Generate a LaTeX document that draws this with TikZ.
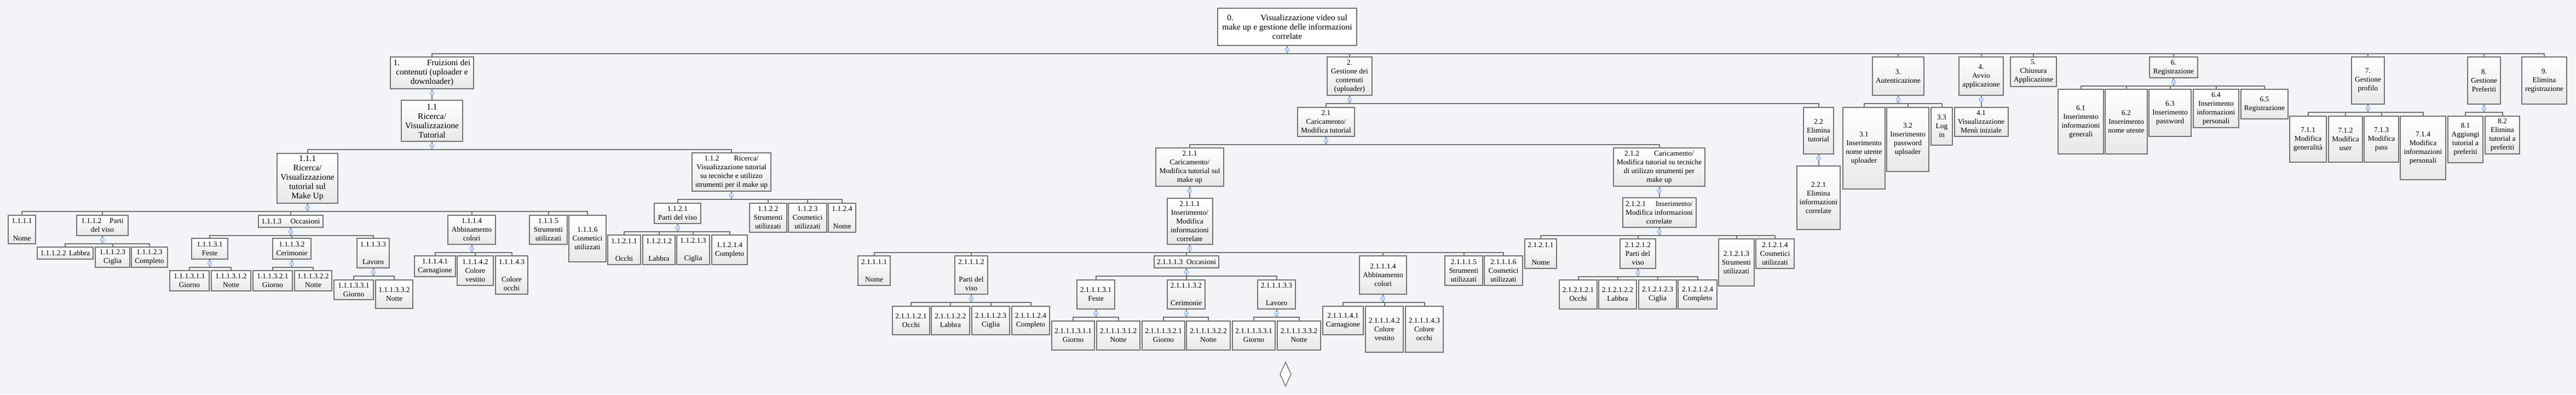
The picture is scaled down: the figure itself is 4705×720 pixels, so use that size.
\documentclass[tikz,border=0pt]{standalone}
\usepackage{fontspec}
\setmainfont{Liberation Serif}
\definecolor{bg}{RGB}{242,244,248}
\definecolor{edge}{RGB}{115,115,115}
\definecolor{tglfill}{RGB}{214,228,247}
\definecolor{tglline}{RGB}{140,172,222}
\tikzset{
  box/.style={draw=edge, line width=2pt, top color=white, bottom color=black!9,
    align=center, inner sep=2pt, font=\fontsize{13.5}{16}\selectfont},
  big/.style={font=\fontsize{15.5}{17}\selectfont},
  wh/.style 2 args={minimum width=#1pt, minimum height=#2pt},
  conn/.style={draw=edge, line width=2pt},
  toggle/.style={circle, inner sep=0pt, minimum size=8pt, draw=tglline, fill=tglfill,
    line width=0.8pt, path picture={\draw[tglline, line width=0.8pt]
      ([xshift=-2pt]path picture bounding box.center) -- ([xshift=2pt]path picture bounding box.center);}}
}
% parent -> children, elbow lines through a bus 14pt below the parent
\newcommand{\branch}[2]{%
  \foreach \ch in {#2} \draw[conn] (#1.south) -- ++(0,14) -| (\ch.north);
  \node[toggle] (t#1) at ([yshift=-7pt]#1.south) {};
}
\begin{document}
\begin{tikzpicture}[x=1pt,y=-1pt]
\fill[bg] (0,0) rectangle (4705,720);
\useasboundingbox (0,0) rectangle (4705,720);

% root
\node[box,big,fill=white,top color=white,bottom color=white,wh={254}{68}] (n0) at (2351,49) {0.\hspace{3.2em}Visualizzazione video sul\\make up e gestione delle informazioni\\correlate};

% 1.
\node[box,big,wh={152}{58}] (n1) at (789,133) {1.\hspace{3.2em}Fruizioni dei\\contenuti (uploader e\\downloader)};
\node[box,big,wh={112}{75}] (n11) at (789,220.5) {1.1\\Ricerca/\\Visualizzazione\\Tutorial};
\node[box,big,wh={111}{91}] (n111) at (561.5,325.5) {1.1.1\\Ricerca/\\Visualizzazione\\tutorial sul\\Make Up};
\node[box,wh={144}{70}] (n112) at (1336,314) {1.1.2\hspace{2em}Ricerca/\\Visualizzazione tutorial\\su tecniche e utilizzo\\strumenti per il make up};

\node[box,wh={50}{52}] (n1111) at (40,419) {1.1.1.1\\[16pt]Nome};
\node[box,wh={94}{37}] (n1112) at (187,411.5) {1.1.1.2\hspace{1.1em}Parti\\del viso};
\node[box,wh={102}{22}] (n11122) at (119,462) {1.1.1.2.2\hspace{0.4em}Labbra};
\node[box,wh={63}{37}] (n11123) at (205.5,469.5) {1.1.1.2.3\\Ciglia};
\node[box,wh={66}{37}] (n11124) at (273,469.5) {1.1.1.2.3\\Completo};
\node[box,wh={118}{22}] (n1113) at (531,404) {1.1.1.3\hspace{1.2em}Occasioni};
\node[box,wh={66}{38}] (n11131) at (383,454) {1.1.1.3.1\\Feste};
\node[box,wh={70}{38}] (n11132) at (533,454) {1.1.1.3.2\\Cerimonie};
\node[box,wh={59}{54}] (n11133) at (681.5,462) {1.1.1.3.3\\[16pt]Lavoro};
\node[box,wh={72}{37}] (n111311) at (346,512.5) {1.1.1.3.1.1\\Giorno};
\node[box,wh={72}{37}] (n111312) at (422,512.5) {1.1.1.3.1.2\\Notte};
\node[box,wh={72}{37}] (n111321) at (498,512.5) {1.1.1.3.2.1\\Giorno};
\node[box,wh={68}{37}] (n111322) at (572,512.5) {1.1.1.3.2.2\\Notte};
\node[box,wh={72}{36}] (n111331) at (646,529) {1.1.1.3.3.1\\Giorno};
\node[box,wh={68}{52}] (n111332) at (720,537) {1.1.1.3.3.2\\Notte};
\node[box,wh={87}{53}] (n1114) at (861.5,419.5) {1.1.1.4\\Abbinamento\\colori};
\node[box,wh={75}{38}] (n11141) at (794.5,486) {1.1.1.4.1\\Carnagione};
\node[box,wh={66}{54}] (n11142) at (868,494) {1.1.1.4.2\\Colore\\vestito};
\node[box,wh={59}{70}] (n11143) at (934.5,502) {1.1.1.4.3\\[16pt]Colore\\occhi};
\node[box,wh={69}{53}] (n1115) at (1001.5,419.5) {1.1.1.5\\Strumenti\\utilizzati};
\node[box,wh={68}{85}] (n1116) at (1073,435.5) {1.1.1.6\\Cosmetici\\utilizzati};

\node[box,wh={85}{37}] (n1121) at (1237.5,389.5) {1.1.2.1\\Parti del viso};
\node[box,wh={60}{54}] (n11211) at (1140,456) {1.1.2.1.1\\[16pt]Occhi};
\node[box,wh={59}{54}] (n11212) at (1203.5,456) {1.1.2.1.2\\[16pt]Labbra};
\node[box,wh={60}{54}] (n11213) at (1266,456) {1.1.2.1.3\\[16pt]Ciglia};
\node[box,wh={65}{54}] (n11214) at (1332.5,456) {1.1.2.1.4\\Completo};
\node[box,wh={68}{53}] (n1122) at (1403,397.5) {1.1.2.2\\Strumenti\\utilizzati};
\node[box,wh={70}{53}] (n1123) at (1475,397.5) {1.1.2.3\\Cosmetici\\utilizzati};
\node[box,wh={50}{53}] (n1124) at (1538,397.5) {1.1.2.4\\[16pt]Nome};

% 2.
\node[box,wh={82}{70}] (n2) at (2465,139) {2.\\Gestione dei\\contenuti\\(uploader)};
\node[box,wh={104}{53}] (n21) at (2422,222.5) {2.1\\Caricamento/\\Modifica tutorial};
\node[box,wh={124}{70}] (n211) at (2173,305) {2.1.1\\Caricamento/\\Modifica tutorial sul\\make up};
\node[box,wh={83}{84}] (n2111) at (2173,404) {2.1.1.1\\Inserimento/\\Modifica\\informazioni\\correlate};

\node[box,wh={59}{54}] (n21111) at (1596.5,494) {2.1.1.1.1\\[16pt]Nome};
\node[box,wh={60}{70}] (n21112) at (1774,502) {2.1.1.1.2\\[16pt]Parti del\\viso};
\node[box,wh={68}{52}] (n211121) at (1664,585) {2.1.1.1.2.1\\Occhi};
\node[box,wh={70}{52}] (n211122) at (1736,585) {2.1.1.1.2.2\\Labbra};
\node[box,wh={69}{52}] (n211123) at (1809.5,585) {2.1.1.1.2.3\\Ciglia};
\node[box,wh={69}{52}] (n211124) at (1882.5,585) {2.1.1.1.2.4\\Completo};
\node[box,wh={118}{22}] (n21113) at (2167,478) {2.1.1.1.3\hspace{0.5em}Occasioni};
\node[box,wh={69}{53}] (n211131) at (2001.5,537.5) {2.1.1.1.3.1\\Feste};
\node[box,wh={69}{53}] (n211132) at (2166.5,537.5) {2.1.1.1.3.2\\[16pt]Cerimonie};
\node[box,wh={69}{53}] (n211133) at (2331.5,537.5) {2.1.1.1.3.3\\[16pt]Lavoro};
\node[box,wh={78}{53}] (n2111311) at (1960,612.5) {2.1.1.1.3.1.1\\Giorno};
\node[box,wh={79}{53}] (n2111312) at (2042.5,612.5) {2.1.1.1.3.1.2\\Notte};
\node[box,wh={78}{53}] (n2111321) at (2125,612.5) {2.1.1.1.3.2.1\\Giorno};
\node[box,wh={80}{53}] (n2111322) at (2207,612.5) {2.1.1.1.3.2.2\\Notte};
\node[box,wh={78}{53}] (n2111331) at (2290,612.5) {2.1.1.1.3.3.1\\Giorno};
\node[box,wh={79}{53}] (n2111332) at (2372.5,612.5) {2.1.1.1.3.3.2\\Notte};
\node[box,wh={86}{70}] (n21114) at (2526,502) {2.1.1.1.4\\Abbinamento\\colori};
\node[box,wh={74}{52}] (n211141) at (2453,585) {2.1.1.1.4.1\\Carnagione};
\node[box,wh={69}{84}] (n211142) at (2528.5,601) {2.1.1.1.4.2\\Colore\\vestito};
\node[box,wh={69}{84}] (n211143) at (2601.5,601) {2.1.1.1.4.3\\Colore\\occhi};
\node[box,wh={69}{54}] (n21115) at (2673.5,494) {2.1.1.1.5\\Strumenti\\utilizzati};
\node[box,wh={70}{54}] (n21116) at (2746,494) {2.1.1.1.6\\Cosmetici\\utilizzati};

\node[box,wh={167}{70}] (n212) at (3030.5,305) {2.1.2\hspace{2em}Caricamento/\\Modifica tutorial su tecniche\\di utilizzo strumenti per\\make up};
\node[box,wh={134}{54}] (n2121) at (3030.5,388) {2.1.2.1\hspace{1.3em}Inserimento/\\Modifica informazioni\\correlate};
\node[box,wh={58}{54}] (n21211) at (2814,463) {2.1.2.1.1\\[16pt]Nome};
\node[box,wh={65}{54}] (n21212) at (2991.5,463) {2.1.2.1.2\\Parti del\\viso};
\node[box,wh={65}{86}] (n21213) at (3171.5,479) {2.1.2.1.3\\Strumenti\\utilizzati};
\node[box,wh={70}{54}] (n21214) at (3242,463) {2.1.2.1.4\\Cosmetici\\utilizzati};
\node[box,wh={69}{53}] (n212121) at (2882.5,537.5) {2.1.2.1.2.1\\Occhi};
\node[box,wh={69}{53}] (n212122) at (2954.5,537.5) {2.1.2.1.2.2\\Labbra};
\node[box,wh={69}{53}] (n212123) at (3027.5,537.5) {2.1.2.1.2.3\\Ciglia};
\node[box,wh={71}{53}] (n212124) at (3100.5,537.5) {2.1.2.1.2.4\\Completo};

\node[box,wh={55}{85}] (n22) at (3321.5,238.5) {2.2\\Elimina\\tutorial};
\node[box,wh={79}{116}] (n221) at (3321.5,361) {2.2.1\\Elimina\\informazioni\\correlate};

% 3. - 9.
\node[box,wh={94}{70}] (n3) at (3467,139) {3.\\Autenticazione};
\node[box,wh={77}{149}] (n31) at (3404.5,270.5) {3.1\\Inserimento\\nome utente\\uploader};
\node[box,wh={77}{117}] (n32) at (3484.5,254.5) {3.2\\Inserimento\\password\\uploader};
\node[box,wh={39}{69}] (n33) at (3546.5,230.5) {3.3\\Log\\in};
\node[box,wh={81}{70}] (n4) at (3618.5,139) {4.\\Avvio\\applicazione};
\node[box,wh={98}{53}] (n41) at (3618.5,222.5) {4.1\\Visualizzazione\\Menù iniziale};
\node[box,wh={84}{54}] (n5) at (3714,131) {5.\\Chiusura\\Applicazione};
\node[box,wh={88}{38}] (n6) at (3970,123) {6.\\Registrazione};
\node[box,wh={83}{118}] (n61) at (3800.5,222) {6.1\\Inserimento\\informazioni\\generali};
\node[box,wh={77}{118}] (n62) at (3883.5,222) {6.2\\Inserimento\\nome utente};
\node[box,wh={77}{86}] (n63) at (3963.5,206) {6.3\\Inserimento\\password};
\node[box,wh={83}{70}] (n64) at (4047.5,198) {6.4\\Inserimento\\informazioni\\personali};
\node[box,wh={86}{54}] (n65) at (4136,190) {6.5\\Registrazione};
\node[box,wh={60}{86}] (n7) at (4325,147) {7.\\Gestione\\profilo};
\node[box,wh={67}{84}] (n711) at (4215.5,254) {7.1.1\\Modifica\\generalità};
\node[box,wh={62}{84}] (n712) at (4284,254) {7.1.2\\Modifica\\user};
\node[box,wh={63}{84}] (n713) at (4349.5,254) {7.1.3\\Modifica\\pass};
\node[box,wh={83}{116}] (n714) at (4425.5,270) {7.1.4\\Modifica\\informazioni\\personali};
\node[box,wh={60}{86}] (n8) at (4537,147) {8.\\Gestione\\Preferiti};
\node[box,wh={64}{85}] (n81) at (4503,254.5) {8.1\\Aggiungi\\tutorial a\\preferiti};
\node[box,wh={63}{69}] (n82) at (4570.5,246.5) {8.2\\Elimina\\tutorial a\\preferiti};
\node[box,wh={82}{86}] (n9) at (4647,147) {9.\\Elimina\\registrazione};

% connectors
\branch{n0}{n1,n2,n3,n4,n5,n6,n7,n8,n9}
\branch{n1}{n11}
\branch{n11}{n111,n112}
\branch{n111}{n1111,n1112,n1113,n1114,n1115,n1116}
\branch{n1112}{n11122,n11123,n11124}
\branch{n1113}{n11131,n11132,n11133}
\branch{n11131}{n111311,n111312}
\branch{n11132}{n111321,n111322}
\branch{n11133}{n111331,n111332}
\branch{n1114}{n11141,n11142,n11143}
\branch{n112}{n1121,n1122,n1123,n1124}
\branch{n1121}{n11211,n11212,n11213,n11214}
\branch{n2}{n21,n22}
\branch{n21}{n211,n212}
\branch{n211}{n2111}
\branch{n2111}{n21111,n21112,n21113,n21114,n21115,n21116}
\branch{n21112}{n211121,n211122,n211123,n211124}
\branch{n21113}{n211131,n211132,n211133}
\branch{n211131}{n2111311,n2111312}
\branch{n211132}{n2111321,n2111322}
\branch{n211133}{n2111331,n2111332}
\branch{n21114}{n211141,n211142,n211143}
\branch{n212}{n2121}
\branch{n2121}{n21211,n21212,n21213,n21214}
\branch{n21212}{n212121,n212122,n212123,n212124}
\branch{n22}{n221}
\branch{n3}{n31,n32,n33}
\branch{n4}{n41}
\branch{n6}{n61,n62,n63,n64,n65}
\branch{n7}{n711,n712,n713,n714}
\branch{n8}{n81,n82}

% stray diamond at the bottom
\draw[edge,fill=white,line width=1.5pt] (2348,661) -- (2358,683) -- (2348,705) -- (2338,683) -- cycle;
\end{tikzpicture}
\end{document}
